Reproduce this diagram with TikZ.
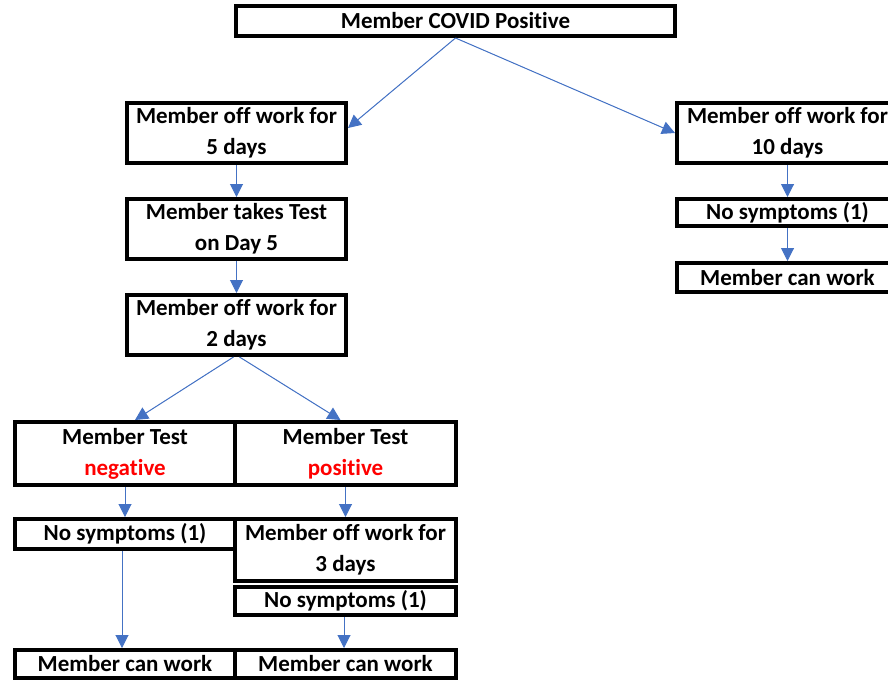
\documentclass[tikz,border=0pt]{standalone}
\usepackage{fontspec}
\setmainfont{Carlito}[Ligatures=NoCommon]
\usetikzlibrary{arrows.meta}
\definecolor{arrowblue}{HTML}{4472C4}
\definecolor{textred}{HTML}{FF0000}
\begin{document}
\begin{tikzpicture}[x=1pt, y=-1pt,
    box/.style={draw=black, line width=4pt, rectangle, inner sep=0pt,
        align=center, font=\fontsize{23}{31}\selectfont\bfseries},
    flow/.style={draw=arrowblue, line width=1pt,
        -{Triangle[length=13pt, width=13pt]}, fill=arrowblue}]
    \clip (0,0) rectangle (888,681);
    \useasboundingbox (0,0) rectangle (888,681);
    % top and the two branches
    \node[box, minimum width=439pt, minimum height=30pt] (positive) at (455.5,21)
        {Member COVID Positive};
    \node[box, minimum width=219pt, minimum height=60pt] (offfive) at (236.5,133)
        {Member off work for\\5 days};
    \node[box, minimum width=219pt, minimum height=60pt] (testday) at (236.5,229)
        {Member takes Test\\on Day 5};
    \node[box, minimum width=219pt, minimum height=60pt] (offtwo) at (236.5,325)
        {Member off work for\\2 days};
    \node[box, minimum width=221pt, minimum height=60pt] (offten) at (787.5,133)
        {Member off work for\\10 days};
    \node[box, minimum width=221pt, minimum height=27pt] (nosymten) at (787.5,212.5)
        {No symptoms (1)};
    \node[box, minimum width=221pt, minimum height=29pt] (workten) at (787.5,277.5)
        {Member can work};
    % test results
    \node[box, minimum width=220pt, minimum height=63pt] (negtest) at (125,453.5)
        {Member Test\\\textcolor{textred}{negative}};
    \node[box, minimum width=221pt, minimum height=63pt] (postest) at (345.5,453.5)
        {Member Test\\\textcolor{textred}{positive}};
    \node[box, minimum width=220pt, minimum height=30pt] (nosymneg) at (125,534)
        {No symptoms (1)};
    \node[box, minimum width=221pt, minimum height=62pt] (offthree) at (345.5,550)
        {Member off work for\\3 days};
    \node[box, minimum width=221pt, minimum height=28pt] (nosympos) at (345.5,601)
        {No symptoms (1)};
    \node[box, minimum width=220pt, minimum height=28pt] (workneg) at (125,664)
        {Member can work};
    \node[box, minimum width=221pt, minimum height=28pt] (workpos) at (345.5,664)
        {Member can work};
    % arrows
    \draw[flow] (positive.south) -- ([yshift=5pt]offfive.east);
    \draw[flow] (positive.south) -- (offten.west);
    \draw[flow] (offfive) -- (testday);
    \draw[flow] (testday) -- (offtwo);
    \draw[flow] (offten) -- (nosymten);
    \draw[flow] (nosymten) -- (workten);
    \draw[flow] ([xshift=-3pt]offtwo.south) -- ([xshift=10pt]negtest.north);
    \draw[flow] ([xshift=3pt]offtwo.south) -- ([xshift=-5pt]postest.north);
    \draw[flow] (negtest) -- (nosymneg);
    \draw[flow] ([xshift=-3pt]nosymneg.south) -- ([xshift=-3pt]workneg.north);
    \draw[flow] (postest) -- (offthree);
    \draw[flow] ([xshift=-1.5pt]nosympos.south) -- ([xshift=-1.5pt]workpos.north);
\end{tikzpicture}
\end{document}
